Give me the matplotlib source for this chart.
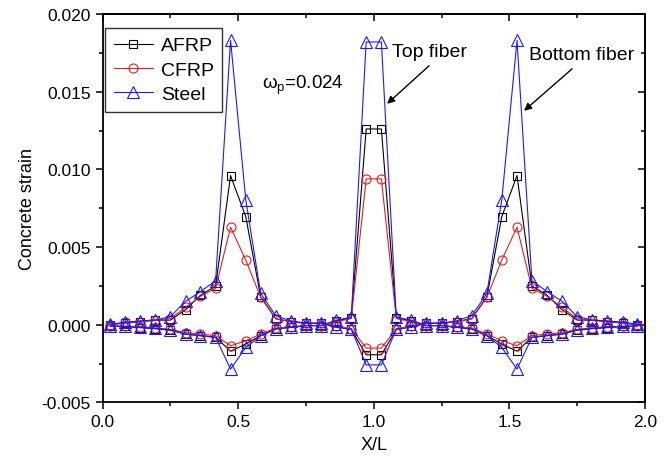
import numpy as np
import matplotlib
matplotlib.use("Agg")
import matplotlib.pyplot as plt
from matplotlib.ticker import MultipleLocator, FormatStrFormatter

plt.rcParams['font.family'] = ['Liberation Sans', 'DejaVu Sans']
plt.rcParams['mathtext.fontset'] = 'custom'
plt.rcParams['mathtext.rm'] = 'Liberation Sans'
plt.rcParams['mathtext.it'] = 'Liberation Sans'

# x/L stations (mid-points of 36 segments)
x_L = [0.028, 0.083, 0.139, 0.194, 0.250, 0.306, 0.361, 0.417, 0.472,
       0.528, 0.583, 0.639, 0.694, 0.750, 0.806, 0.861, 0.917, 0.972,
       1.028, 1.083, 1.139, 1.194, 1.250, 1.306, 1.361, 1.417, 1.472,
       1.528, 1.583, 1.639, 1.694, 1.750, 1.806, 1.861, 1.917, 1.972]

# bottom fiber strains
afrp_bottom = [0.0, 0.00012, 0.0002, 0.0003, 0.0003, 0.00097, 0.0019, 0.0025, 0.0096,
               0.00696, 0.0018, 0.0004, 0.0002, 0.0001, 0.0001, -0.0001, -0.0003, -0.00193,
               -0.00193, -0.0003, -0.0001, 0.0001, 0.0001, 0.0002, 0.0004, 0.0018, 0.00696,
               0.0096, 0.0025, 0.0019, 0.00097, 0.0003, 0.0003, 0.0002, 0.00012, 0.0]
cfrp_bottom = [0.0, 0.00015, 0.0002, 0.0003, 0.0004, 0.00112, 0.00183, 0.00235, 0.00628,
               0.00417, 0.00177, 0.00037, 0.0002, 0.0001, 0.0001, -0.0001, -0.00025, -0.0015,
               -0.0015, -0.00025, -0.0001, 0.0001, 0.0001, 0.0002, 0.00037, 0.00177, 0.00417,
               0.00628, 0.00235, 0.00183, 0.00112, 0.0004, 0.0003, 0.0002, 0.00015, 0.0]
steel_bottom = [0.00005, 0.00015, 0.00026, 0.0003, 0.00052, 0.00151, 0.00213, 0.00284, 0.0183,
                0.00805, 0.00202, 0.00058, 0.00026, 0.0001, 0.0001, -0.00017, -0.00028, -0.00258,
                -0.00258, -0.00028, -0.00017, 0.0001, 0.0001, 0.00026, 0.00058, 0.00202, 0.00805,
                0.0183, 0.00284, 0.00213, 0.00151, 0.00052, 0.0003, 0.00026, 0.00015, 0.00005]

# top fiber strains
afrp_top = [-0.0001, -0.0001, -0.00018, -0.00025, -0.00035, -0.0006, -0.0007, -0.0008, -0.0017,
            -0.00124, -0.0007, -0.00025, -0.00015, -0.00005, -0.00005, 0.00025, 0.00045, 0.0126,
            0.0126, 0.00045, 0.00025, -0.00005, -0.00005, -0.00015, -0.00025, -0.0007, -0.00124,
            -0.0017, -0.0008, -0.0007, -0.0006, -0.00035, -0.00025, -0.00018, -0.0001, -0.0001]
cfrp_top = [-0.0001, -0.0001, -0.00015, -0.0002, -0.0003, -0.0005, -0.0006, -0.0007, -0.00135,
            -0.00103, -0.0006, -0.0002, -0.00015, -0.00005, -0.00005, 0.0002, 0.0004, 0.00939,
            0.00939, 0.0004, 0.0002, -0.00005, -0.00005, -0.00015, -0.0002, -0.0006, -0.00103,
            -0.00135, -0.0007, -0.0006, -0.0005, -0.0003, -0.0002, -0.00015, -0.0001, -0.0001]
steel_top = [-0.00006, -0.0001, -0.00017, -0.00023, -0.00032, -0.0006, -0.0007, -0.00081, -0.00285,
             -0.00146, -0.00071, -0.00028, -0.00017, -0.00006, -0.00006, 0.0003, 0.00048, 0.0182,
             0.0182, 0.00048, 0.0003, -0.00006, -0.00006, -0.00017, -0.00028, -0.00071, -0.00146,
             -0.00285, -0.00081, -0.0007, -0.0006, -0.00032, -0.00023, -0.00017, -0.0001, -0.00006]

fig = plt.figure(figsize=(6.71, 4.64), dpi=100)
ax = fig.add_axes([0.1528, 0.1304, 0.8085, 0.8373])

styles = [
    ("AFRP", afrp_bottom, afrp_top, "black", "s", 6),
    ("CFRP", cfrp_bottom, cfrp_top, "#e02020", "o", 6.5),
    ("Steel", steel_bottom, steel_top, "#1a1aff", "^", 8.5),
]
for name, bot, top, col, mk, ms in styles:
    kw = dict(color=col, marker=mk, markersize=ms, markerfacecolor='none',
              markeredgecolor=col, markeredgewidth=0.8, linewidth=0.8)
    ax.plot(x_L, bot, label=name, **kw)
    ax.plot(x_L, top, **kw)

ax.set_xlim(0, 2.0)
ax.set_ylim(-0.005, 0.020)
ax.xaxis.set_major_locator(MultipleLocator(0.5))
ax.xaxis.set_minor_locator(MultipleLocator(0.25))
ax.yaxis.set_major_locator(MultipleLocator(0.005))
ax.yaxis.set_minor_locator(MultipleLocator(0.0025))
ax.xaxis.set_major_formatter(FormatStrFormatter('%.1f'))
ax.yaxis.set_major_formatter(FormatStrFormatter('%.3f'))
ax.tick_params(which='both', direction='out', labelsize=12.5, width=1.1)
ax.tick_params(which='major', length=5)
ax.tick_params(which='minor', length=3)
for s in ax.spines.values():
    s.set_linewidth(1.3)

# mirrored inward ticks on top and right
top_ax = ax.secondary_xaxis('top')
top_ax.xaxis.set_major_locator(MultipleLocator(0.5))
top_ax.xaxis.set_minor_locator(MultipleLocator(0.25))
top_ax.tick_params(which='both', direction='in', labeltop=False, width=1.1)
top_ax.tick_params(which='major', length=5)
top_ax.tick_params(which='minor', length=3)
right_ax = ax.secondary_yaxis('right')
right_ax.yaxis.set_major_locator(MultipleLocator(0.005))
right_ax.yaxis.set_minor_locator(MultipleLocator(0.0025))
right_ax.tick_params(which='both', direction='in', labelright=False, width=1.1)
right_ax.tick_params(which='major', length=5)
right_ax.tick_params(which='minor', length=3)
for sa in (top_ax, right_ax):
    for s in sa.spines.values():
        s.set_linewidth(1.3)

ax.set_xlabel("X/L", fontsize=13, labelpad=5)
ax.set_ylabel("Concrete strain", fontsize=13, labelpad=4)

leg = ax.legend(loc='upper left', bbox_to_anchor=(0.005, 0.964), fontsize=14,
                frameon=True, fancybox=False, edgecolor='black', handlelength=2.0,
                labelspacing=0.35, borderpad=0.45, handletextpad=0.4, borderaxespad=0.0)
leg.get_frame().set_linewidth(1.0)

ax.text(0.588, 0.0155, r'$\omega_{\rm p}$=0.024', fontsize=13.5, va='center')

arrow = dict(arrowstyle='-|>', color='black', lw=1.0, mutation_scale=11,
             shrinkA=0, shrinkB=0)
ax.text(1.067, 0.01756, "Top fiber", fontsize=14, va='center', ha='left')
ax.annotate("", xy=(1.049, 0.01422), xytext=(1.204, 0.01667), arrowprops=arrow)
ax.text(1.572, 0.01737, "Bottom fiber", fontsize=14, va='center', ha='left')
ax.annotate("", xy=(1.554, 0.01377), xytext=(1.731, 0.01647), arrowprops=arrow)

fig.savefig("out.png", dpi=100)
